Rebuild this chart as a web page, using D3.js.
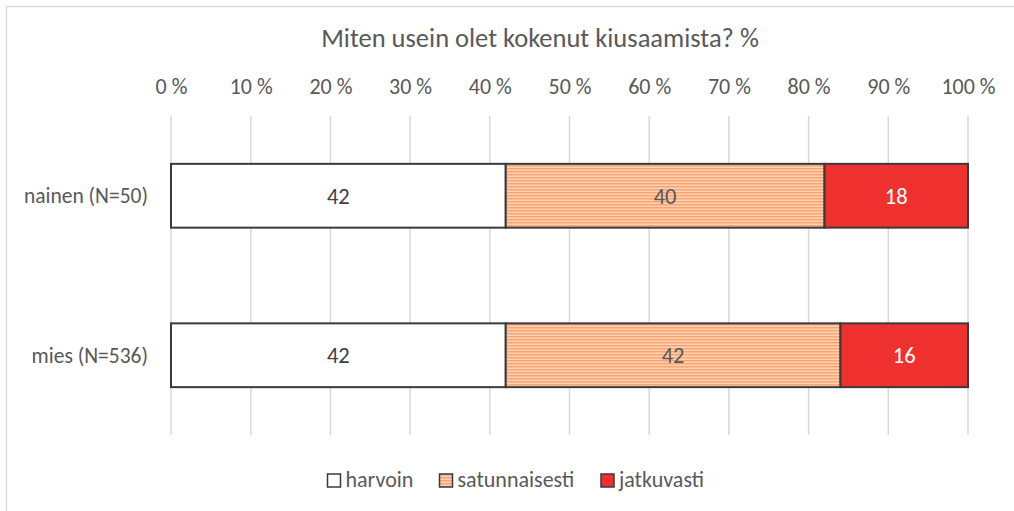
<!DOCTYPE html>
<html>
<head>
<meta charset="utf-8">
<script src="https://cdn.jsdelivr.net/npm/d3@7"></script>
<style>
  body { margin: 0; background: #fff; }
  svg text { font-family: Carlito, Calibri, Lato, "Open Sans", sans-serif; }
</style>
</head>
<body>
<div id="chart"></div>
<script>
var categories = ["nainen (N=50)", "mies (N=536)"];
var seriesNames = ["harvoin", "satunnaisesti", "jatkuvasti"];
var harvoin = [42, 42];
var satunnaisesti = [40, 42];
var jatkuvasti = [18, 16];
var tickValues = [0, 10, 20, 30, 40, 50, 60, 70, 80, 90, 100];

renderChart();

function renderChart() {

var width = 1014;
var height = 511;
var font = "Carlito, Calibri, Lato, 'Open Sans', sans-serif";

var svg = d3.select("#chart")
        .append("svg")
        .attr("width", width)
        .attr("height", height);

// stripes for the middle series
var defs = svg.append("defs");
var pat = defs.append("pattern")
        .attr("id", "stripes")
        .attr("patternUnits", "userSpaceOnUse")
        .attr("width", 6)
        .attr("height", 3);
pat.append("rect").attr("width", 6).attr("height", 3).attr("fill", "#fdd3b4");
pat.append("rect").attr("width", 6).attr("height", 1.5).attr("fill", "#f9a470");

svg.append("rect")
    .attr("x", 6.5).attr("y", 6.5)
    .attr("width", width).attr("height", height)
    .attr("fill", "#fff")
    .attr("stroke", "#d9d9d9")
    .attr("stroke-width", 1.3);

var x = d3.scaleLinear().domain([0, 100]).range([171, 968]);
var y = d3.scaleBand().domain(categories).range([116, 435]).paddingInner(0.6).paddingOuter(0.3);

svg.append("text")
    .attr("x", 540).attr("y", 47)
    .attr("text-anchor", "middle")
    .attr("font-size", 26.5)
    .attr("fill", "#595959")
    .text("Miten usein olet kokenut kiusaamista? %");

// gridlines
svg.append("g")
    .selectAll("line")
    .data(tickValues)
    .enter().append("line")
    .attr("x1", function(d) { return x(d); })
    .attr("x2", function(d) { return x(d); })
    .attr("y1", 116)
    .attr("y2", 435)
    .attr("stroke", "#d9d9d9")
    .attr("stroke-width", 1.5);

// top axis labels
var xAxis = d3.axisTop(x)
    .tickValues(tickValues)
    .tickSize(0)
    .tickPadding(0)
    .tickFormat(function(d) { return d + " %"; });
var gx = svg.append("g").attr("transform", "translate(0,94)").call(xAxis);
gx.select(".domain").remove();
gx.selectAll("text")
    .attr("font-size", 22)
    .attr("fill", "#595959")
    .attr("dy", 0)
    .style("font-family", font);

// category labels
var yAxis = d3.axisLeft(y).tickSize(0).tickPadding(0);
var gy = svg.append("g").attr("transform", "translate(148,0)").call(yAxis);
gy.select(".domain").remove();
gy.selectAll("text")
    .attr("font-size", 21.5)
    .attr("fill", "#595959")
    .attr("dy", "0.35em")
    .style("font-family", font);

var rows = categories.map(function(c, i) {
  return { cat: c, harvoin: harvoin[i], satunnaisesti: satunnaisesti[i], jatkuvasti: jatkuvasti[i] };
});
var stack = d3.stack().keys(seriesNames)(rows);

var fills = { harvoin: "#ffffff", satunnaisesti: "url(#stripes)", jatkuvasti: "#ee312e" };
var labelColors = { harvoin: "#404040", satunnaisesti: "#595959", jatkuvasti: "#ffffff" };

var layers = svg.append("g")
    .selectAll("g")
    .data(stack)
    .enter().append("g");

layers.selectAll("rect")
    .data(function(d) { return d.map(function(p) { return { key: d.key, p: p }; }); })
    .enter().append("rect")
    .attr("x", function(d) { return x(d.p[0]); })
    .attr("y", function(d) { return y(d.p.data.cat); })
    .attr("width", function(d) { return x(d.p[1]) - x(d.p[0]); })
    .attr("height", y.bandwidth())
    .attr("fill", function(d) { return fills[d.key]; })
    .attr("stroke", "#3a3a3a")
    .attr("stroke-width", 2);

layers.selectAll("text")
    .data(function(d) { return d.map(function(p) { return { key: d.key, p: p }; }); })
    .enter().append("text")
    .attr("x", function(d) { return (x(d.p[0]) + x(d.p[1])) / 2; })
    .attr("y", function(d) { return y(d.p.data.cat) + y.bandwidth() / 2; })
    .attr("dy", "0.35em")
    .attr("text-anchor", "middle")
    .attr("font-size", 22.5)
    .attr("fill", function(d) { return labelColors[d.key]; })
    .text(function(d) { return d.p[1] - d.p[0]; });

// legend
var legendX = [327.5, 439.5, 601];
var leg = svg.append("g")
    .selectAll("g")
    .data(seriesNames)
    .enter().append("g")
    .attr("transform", function(d, i) { return "translate(" + legendX[i] + ",474)"; });
leg.append("rect")
    .attr("width", 13).attr("height", 13)
    .attr("fill", function(d) { return fills[d]; })
    .attr("stroke", "#3a3a3a")
    .attr("stroke-width", 1.5);
leg.append("text")
    .attr("x", 18).attr("y", 13)
    .attr("font-size", 22)
    .attr("fill", "#595959")
    .text(function(d) { return d; });
}
</script>
</body>
</html>
